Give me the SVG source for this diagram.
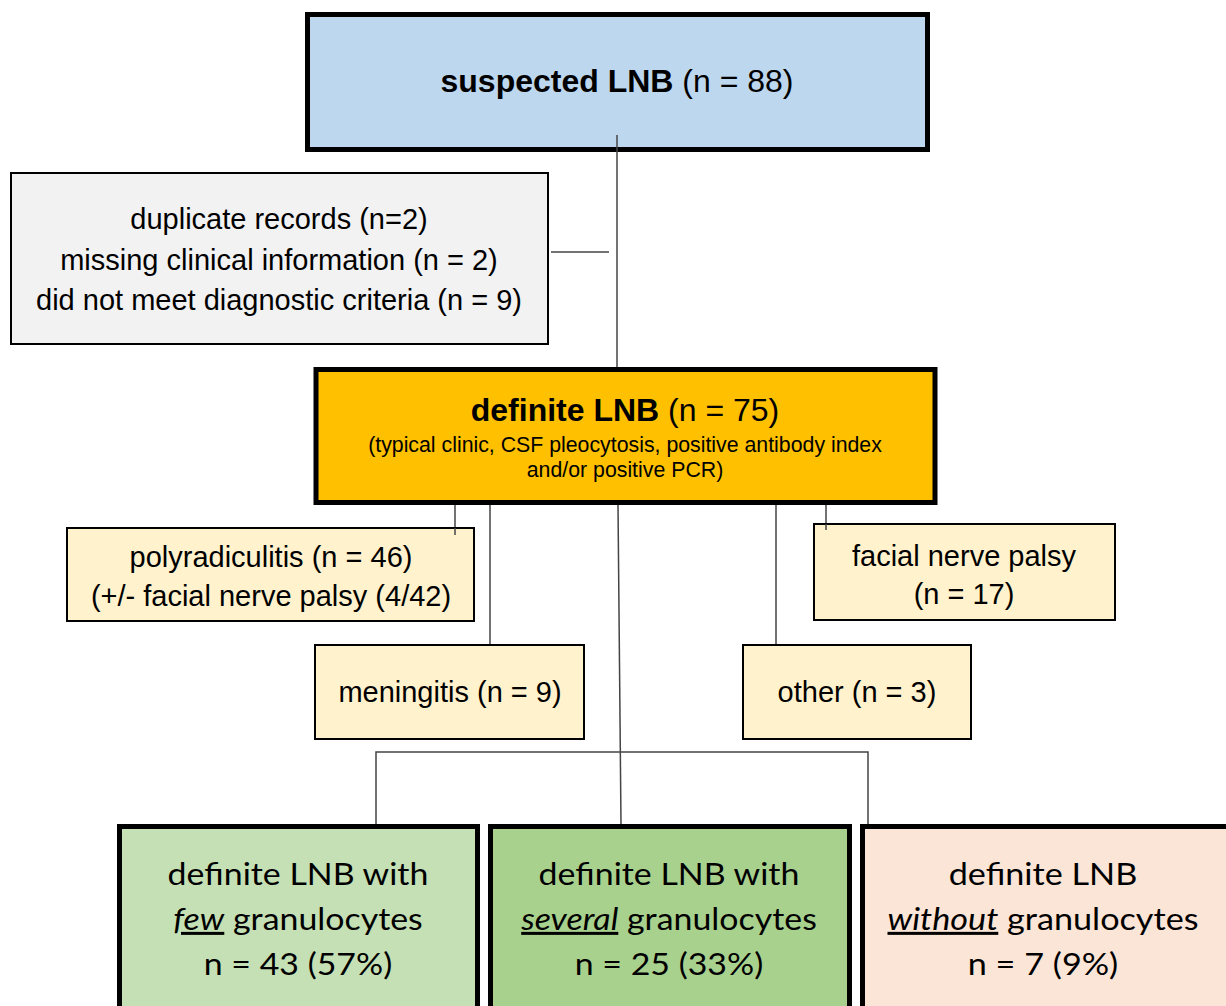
<svg xmlns="http://www.w3.org/2000/svg" width="1226" height="1006" viewBox="0 0 1226 1006">
<style>
.a{font-family:"Liberation Sans",Arial,sans-serif;fill:#000;text-anchor:middle}
.m{font-size:29px}
.h{font-size:32px}
.c{font-family:Lato,"Open Sans",sans-serif;fill:#000;text-anchor:middle;font-size:30px}
.b{font-weight:bold}
.thin{stroke:#000;stroke-width:2}
.thick{stroke:#000;stroke-width:5}
.ln{stroke:#444;stroke-width:1.5;fill:none}
.u{font-style:italic;text-decoration:underline}
</style>
<rect width="1226" height="1006" fill="#fff"/>
<g id="connectors">
<line class="ln" x1="617" y1="135" x2="617" y2="367"/>
<line class="ln" x1="551" y1="252" x2="609" y2="252"/>
<line class="ln" x1="455" y1="505" x2="455" y2="535"/>
<line class="ln" x1="490" y1="505" x2="490" y2="645"/>
<line class="ln" x1="618" y1="505" x2="621" y2="824"/>
<line class="ln" x1="776" y1="505" x2="776" y2="645"/>
<line class="ln" x1="826" y1="505" x2="826" y2="530"/>
<polyline class="ln" points="376,824 376,752 868,752 868,824"/>
</g>
<g id="suspected">
<rect x="307.5" y="14.5" width="620" height="135" fill="#BDD7EE" class="thick"/>
<line class="ln" x1="617" y1="135" x2="617" y2="152"/>
<text class="a h" x="617" y="92"><tspan class="b">suspected LNB</tspan> (n = 88)</text>
</g>
<g id="excluded">
<rect x="11" y="173" width="537" height="171" fill="#F2F2F2" class="thin"/>
<text class="a m" x="279" y="229">duplicate records (n=2)</text>
<text class="a m" x="279" y="270">missing clinical information (n = 2)</text>
<text class="a m" x="279" y="310">did not meet diagnostic criteria (n = 9)</text>
</g>
<g id="definite">
<rect x="316" y="369.5" width="619" height="133" fill="#FFC000" class="thick"/>
<text class="a h" x="625" y="421"><tspan class="b">definite LNB</tspan> (n = 75)</text>
<text class="a" x="625" y="452" font-size="21.3">(typical clinic, CSF pleocytosis, positive antibody index</text>
<text class="a" x="625" y="477" font-size="21.3">and/or positive PCR)</text>
</g>
<g id="polyradiculitis">
<rect x="67" y="528" width="407" height="93" fill="#FFF2CC" class="thin"/>
<line class="ln" x1="455" y1="528" x2="455" y2="535"/>
<text class="a m" x="271" y="567">polyradiculitis (n = 46)</text>
<text class="a m" x="271" y="606">(+/- facial nerve palsy (4/42)</text>
</g>
<g id="facial">
<rect x="814" y="524" width="301" height="96" fill="#FFF2CC" class="thin"/>
<line class="ln" x1="826" y1="524" x2="826" y2="530"/>
<text class="a m" x="964" y="566">facial nerve palsy</text>
<text class="a m" x="964" y="604">(n = 17)</text>
</g>
<g id="meningitis">
<rect x="315" y="645" width="269" height="94" fill="#FFF2CC" class="thin"/>
<text class="a m" x="450" y="702">meningitis (n = 9)</text>
</g>
<g id="other">
<rect x="743" y="645" width="228" height="94" fill="#FFF2CC" class="thin"/>
<text class="a m" x="857" y="702">other (n = 3)</text>
</g>
<g id="few">
<rect x="119.5" y="826.5" width="358" height="190" fill="#C5E0B4" class="thick"/>
<text class="c" transform="translate(298 885) scale(1.13 1)">definite LNB with</text>
<text class="c" transform="translate(298 930) scale(1.13 1)"><tspan class="u">few</tspan> granulocytes</text>
<text class="c" transform="translate(298 975) scale(1.13 1)">n = 43 (57%)</text>
</g>
<g id="several">
<rect x="490.5" y="826.5" width="359" height="190" fill="#A9D18E" class="thick"/>
<text class="c" transform="translate(669 885) scale(1.13 1)">definite LNB with</text>
<text class="c" transform="translate(669 930) scale(1.13 1)"><tspan class="u">several</tspan> granulocytes</text>
<text class="c" transform="translate(669 975) scale(1.13 1)">n = 25 (33%)</text>
</g>
<g id="without">
<rect x="862.5" y="826.5" width="370" height="190" fill="#FBE5D6" class="thick"/>
<text class="c" transform="translate(1043 885) scale(1.14 1)">definite LNB</text>
<text class="c" transform="translate(1043 930) scale(1.14 1)"><tspan class="u">without</tspan> granulocytes</text>
<text class="c" transform="translate(1043 975) scale(1.14 1)">n = 7 (9%)</text>
</g>
</svg>
